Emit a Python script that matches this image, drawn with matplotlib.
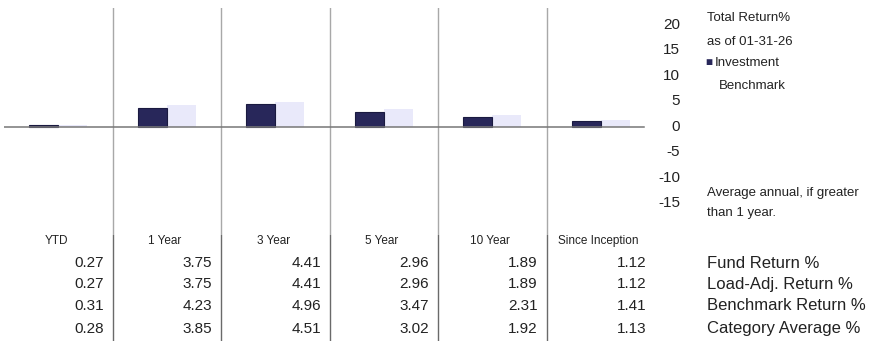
import matplotlib
matplotlib.use('Agg')
import matplotlib.pyplot as plt
import matplotlib.transforms as mtransforms

plt.rcParams['font.family'] = ['Liberation Sans', 'DejaVu Sans']

# periods and returns
periods = ['YTD', '1 Year', '3 Year', '5 Year', '10 Year', 'Since Inception']
fund_return = [0.27, 3.75, 4.41, 2.96, 1.89, 1.12]
load_adj_return = [0.27, 3.75, 4.41, 2.96, 1.89, 1.12]
benchmark_return = [0.31, 4.23, 4.96, 3.47, 2.31, 1.41]
category_avg = [0.28, 3.85, 4.51, 3.02, 1.92, 1.13]
row_names = ['Fund Return %', 'Load-Adj. Return %', 'Benchmark Return %', 'Category Average %']
y_ticks = [20, 15, 10, 5, 0, -5, -10, -15]

inv_color = '#28275a'
bench_color = '#e9e9fa'
text_color = '#222222'

W, H = 890, 341
fig = plt.figure(figsize=(W / 100, H / 100), dpi=100)
fig.patch.set_facecolor('white')


def px_axes(left, top, right, bottom):
    return fig.add_axes([left / W, 1 - bottom / H, (right - left) / W, (bottom - top) / H])


# bar chart area
ax = px_axes(4, 8, 655, 235)
ax.set_xlim(0, 6)
ax.set_ylim(-21.2, 23.3)
ax.axis('off')

n = len(periods)
centers = [i + 0.5 for i in range(n)]
bw = 0.265
ax.bar([c - bw / 2 for c in centers], fund_return, width=bw, color=inv_color,
       edgecolor='#1a1a40', linewidth=0.8, zorder=3)
ax.bar([c + bw / 2 for c in centers], benchmark_return, width=bw, color=bench_color,
       linewidth=0, zorder=2)
ax.plot([0, 5.9], [0, 0], color='#777777', lw=1.1, zorder=4)
for i in range(1, n):
    ax.axvline(i, color='#a8a8a8', lw=1.0, zorder=1)

# y tick labels on the right
ytrans = mtransforms.blended_transform_factory(fig.transFigure, ax.transData)
for t in y_ticks:
    fig.text(680 / W, t, str(t), transform=ytrans, ha='right', va='center',
             fontsize=11, color=text_color)

# legend block
legend_x = 707 / W
fig.text(legend_x, 1 - 18 / H, 'Total Return%', ha='left', va='center', fontsize=9.5, color=text_color)
fig.text(legend_x, 1 - 42 / H, 'as of 01-31-26', ha='left', va='center', fontsize=9.5, color=text_color)
fig.text(705 / W, 1 - 63 / H, '\u25a0', ha='left', va='center', fontsize=8.5, color=inv_color)
fig.text(715 / W, 1 - 63 / H, 'Investment', ha='left', va='center', fontsize=9.5, color=text_color)
fig.text(719 / W, 1 - 86 / H, 'Benchmark', ha='left', va='center', fontsize=9.5, color=text_color)
fig.text(legend_x, 1 - 193 / H, 'Average annual, if greater', ha='left', va='center',
         fontsize=9.5, color=text_color)
fig.text(legend_x, 1 - 213 / H, 'than 1 year.', ha='left', va='center', fontsize=9.5, color=text_color)

# table below the chart
tab = px_axes(4, 235, 655, 341)
tab.set_xlim(0, 6)
tab.set_ylim(341, 235)
tab.axis('off')
for i in range(1, n):
    tab.axvline(i, color='#6a6a6a', lw=1.0)

row_y = [263, 284, 306, 329]
rows = [fund_return, load_adj_return, benchmark_return, category_avg]
for i, name in enumerate(periods):
    tab.text(i + 0.48, 241, name, ha='center', va='center', fontsize=8.5, color=text_color)
    for y, vals in zip(row_y, rows):
        tab.text(i + 0.92, y, f'{vals[i]:.2f}', ha='right', va='center',
                 fontsize=11, color=text_color)

for y, name in zip(row_y, row_names):
    fig.text(707 / W, 1 - y / H, name, ha='left', va='center', fontsize=12, color=text_color)

fig.savefig('out.png', dpi=100, facecolor='white')
